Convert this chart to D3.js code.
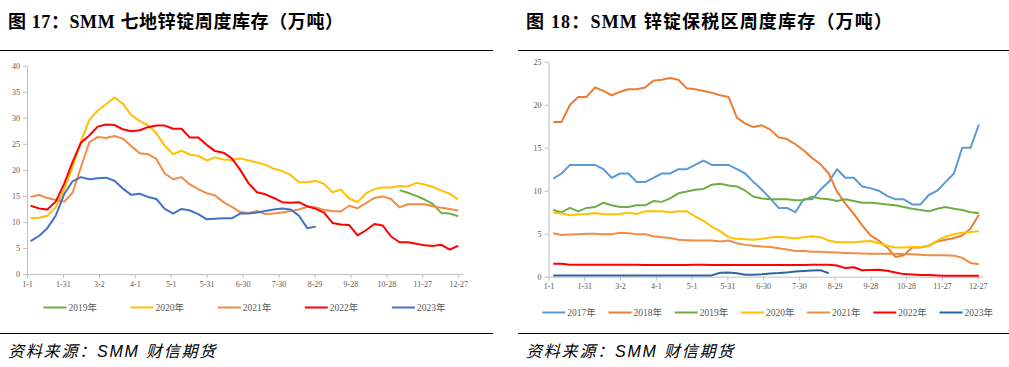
<!DOCTYPE html>
<html>
<head>
<meta charset="utf-8">
<script src="https://cdn.jsdelivr.net/npm/d3@7"></script>
<style>
body { margin: 0; background: #fff; }
svg text { font-family: "Liberation Serif", "Noto Sans CJK SC", serif; }
.axis .tick text { fill: #595959; font-size: 8px; }
.axis path, .axis line { stroke: #bfbfbf; }
.legend text { fill: #595959; font-size: 9.5px; }
.title { font-size: 18px; font-weight: bold; fill: #000; }
.source { font-family: "Liberation Sans", "Noto Sans CJK SC", sans-serif !important; font-size: 16px; font-style: italic; fill: #000; letter-spacing: 1.8px; }
</style>
</head>
<body>
<script>
var width = 1009, height = 367;

var tickDays = [0, 30, 60, 90, 120, 150, 180, 210, 240, 270, 300, 330, 360];
var tickLabels = ["1-1", "1-31", "3-2", "4-1", "5-1", "5-31", "6-30", "7-30", "8-29", "9-28", "10-28", "11-27", "12-27"];

// 图17 七地锌锭库存, weekly points
var leftYears = ["2019年", "2020年", "2021年", "2022年", "2023年"];
var leftColors = ["#70ad47", "#ffc000", "#f08c45", "#ff0000", "#4472c4"];
var leftStart = [311, 3, 3, 3, 3];
var left2019 = [16.1, 15.6, 15.0, 14.3, 13.4, 11.7, 11.6, 11.1];
var left2020 = [10.7, 10.8, 11.2, 12.8, 16.2, 20.5, 25.4, 29.6, 31.4, 32.6, 33.9, 32.7, 30.5, 29.4, 28.6, 27.0, 24.6, 23.0, 23.7, 22.9,
  22.7, 21.8, 22.4, 22.0, 21.9, 22.2, 21.8, 21.4, 21.0, 20.2, 19.8, 19.0, 17.6, 17.6, 17.9, 17.3, 15.7, 16.2, 14.5, 13.8,
  15.5, 16.3, 16.6, 16.6, 16.9, 16.8, 17.5, 17.2, 16.7, 16.0, 15.4, 14.3];
var left2021 = [14.8, 15.2, 14.6, 14.2, 13.9, 15.6, 20.5, 25.3, 26.3, 26.1, 26.5, 26.0, 24.6, 23.2, 23.0, 22.1, 19.3, 18.2, 18.6, 17.2,
  16.3, 15.5, 15.1, 13.8, 12.9, 11.9, 11.7, 12.1, 11.5, 11.6, 11.8, 12.1, 12.4, 12.9, 12.8, 12.3, 12.1, 12.0, 13.1, 12.6,
  13.6, 14.6, 14.9, 14.4, 12.8, 13.4, 13.4, 13.4, 13.0, 12.7, 12.5, 12.2];
var left2022 = [13.1, 12.6, 12.4, 13.9, 17.3, 21.5, 25.2, 26.6, 28.3, 28.7, 28.6, 27.8, 27.4, 27.6, 28.2, 28.5, 28.5, 27.9, 27.9, 26.2,
  26.2, 24.8, 23.6, 23.3, 22.2, 20.0, 17.4, 15.7, 15.3, 14.6, 13.8, 13.7, 13.8, 13.0, 12.5, 11.8, 9.8, 9.5, 9.4, 7.4,
  8.4, 9.6, 9.3, 7.2, 6.1, 6.1, 5.8, 5.5, 5.4, 5.6, 4.7, 5.4];
var left2023 = [6.3, 7.3, 8.8, 11.2, 15.3, 17.8, 18.6, 18.2, 18.4, 18.5, 17.9, 16.4, 15.2, 15.4, 14.8, 14.4, 12.5, 11.6, 12.5, 12.2,
  11.5, 10.5, 10.6, 10.7, 10.7, 11.6, 11.6, 11.8, 12.1, 12.4, 12.6, 12.4, 11.2, 8.8, 9.1];
var leftYTicks = [0, 5, 10, 15, 20, 25, 30, 35, 40];

// 图18 保税区锌锭库存, weekly points
var rightYears = ["2017年", "2018年", "2019年", "2020年", "2021年", "2022年", "2023年"];
var rightColors = ["#5b9bd5", "#ed7d31", "#70ad47", "#ffc000", "#f08c45", "#ff0000", "#2e66a3"];
var rightStart = [4, 4, 4, 4, 4, 4, 4];
var right2017 = [11.4, 12.0, 13.0, 13.0, 13.0, 13.0, 12.5, 11.5, 12.0, 12.0, 11.0, 11.0, 11.5, 12.0, 12.0, 12.5, 12.5, 13.0, 13.5, 13.0,
  13.0, 13.0, 12.5, 12.0, 11.0, 10.1, 9.1, 8.0, 8.0, 7.5, 9.0, 9.0, 10.1, 11.0, 12.5, 11.5, 11.5, 10.5, 10.3, 10.0,
  9.4, 9.0, 9.0, 8.4, 8.4, 9.5, 10.0, 11.0, 12.0, 15.0, 15.0, 17.7];
var right2018 = [18.0, 18.0, 20.0, 20.9, 20.9, 22.0, 21.6, 21.1, 21.5, 21.8, 21.8, 22.0, 22.8, 22.9, 23.1, 22.9, 21.9, 21.8, 21.6, 21.4,
  21.1, 20.9, 18.5, 17.8, 17.4, 17.6, 17.1, 16.2, 16.0, 15.4, 14.7, 13.8, 13.1, 12.0, 9.9, 8.5, 7.3, 6.0, 4.8, 4.2,
  3.4, 2.3, 2.5, 3.4, 3.4, 3.6, 4.1, 4.3, 4.5, 4.8, 5.6, 7.2];
var right2019 = [7.75, 7.5, 8.0, 7.6, 8.0, 8.1, 8.6, 8.3, 8.1, 8.1, 8.3, 8.3, 8.8, 8.7, 9.1, 9.7, 9.9, 10.1, 10.2, 10.7,
  10.8, 10.6, 10.5, 10.0, 9.3, 9.1, 9.0, 9.0, 9.0, 8.9, 8.9, 9.3, 9.1, 9.0, 8.8, 9.0, 8.8, 8.6, 8.6, 8.5,
  8.4, 8.3, 8.1, 7.9, 7.75, 7.6, 7.9, 8.1, 7.9, 7.75, 7.5, 7.4];
var right2020 = [7.45, 7.35, 7.15, 7.25, 7.3, 7.4, 7.25, 7.25, 7.3, 7.45, 7.3, 7.6, 7.6, 7.6, 7.5, 7.6, 7.6, 7.0, 6.5, 5.8,
  5.3, 4.6, 4.4, 4.35, 4.3, 4.4, 4.55, 4.65, 4.55, 4.45, 4.6, 4.7, 4.6, 4.2, 4.0, 4.0, 4.0, 4.1, 4.15, 3.9,
  3.6, 3.4, 3.4, 3.45, 3.45, 3.6, 4.2, 4.65, 4.95, 5.1, 5.2, 5.3];
var right2021 = [5.05, 4.85, 4.9, 4.95, 5.0, 5.0, 4.95, 4.95, 5.1, 5.05, 4.95, 4.95, 4.7, 4.6, 4.5, 4.3, 4.25, 4.2, 4.2, 4.2,
  4.1, 4.2, 3.9, 3.7, 3.6, 3.5, 3.45, 3.3, 3.15, 3.0, 3.0, 2.9, 2.9, 2.85, 2.8, 2.75, 2.72, 2.7, 2.68, 2.67,
  2.67, 2.68, 2.65, 2.6, 2.55, 2.5, 2.5, 2.5, 2.45, 2.2, 1.6, 1.45];
var right2022 = [1.5, 1.5, 1.4, 1.4, 1.4, 1.4, 1.4, 1.4, 1.4, 1.4, 1.4, 1.35, 1.35, 1.35, 1.35, 1.35, 1.35, 1.4, 1.4, 1.35,
  1.35, 1.35, 1.35, 1.35, 1.35, 1.35, 1.35, 1.35, 1.35, 1.35, 1.35, 1.4, 1.4, 1.4, 1.3, 1.0, 1.1, 0.75, 0.78, 0.8,
  0.7, 0.5, 0.3, 0.27, 0.2, 0.2, 0.15, 0.12, 0.12, 0.12, 0.12, 0.12];
var right2023 = [0.15, 0.15, 0.15, 0.15, 0.15, 0.15, 0.15, 0.15, 0.15, 0.15, 0.15, 0.15, 0.15, 0.15, 0.15, 0.15, 0.15, 0.15, 0.15, 0.15,
  0.45, 0.5, 0.4, 0.22, 0.22, 0.28, 0.38, 0.42, 0.5, 0.6, 0.66, 0.72, 0.76, 0.4];
var rightYTicks = [0, 5, 10, 15, 20, 25];

var svg = d3.select("body").append("svg")
    .attr("width", width).attr("height", height)
    .style("background", "#fff");

function drawChart(opt) {
    var x = d3.scaleLinear().domain([0, 364]).range([opt.x0, opt.x1]);
    var y = d3.scaleLinear().domain([0, opt.yMax]).range([opt.y0, opt.y1]);

    svg.append("text").attr("class", "title").attr("x", opt.left + 8).attr("y", 28)
        .attr("textLength", opt.titleWidth).attr("lengthAdjust", "spacing").text(opt.title);
    svg.append("line").attr("x1", opt.left).attr("x2", opt.right).attr("y1", 50.5).attr("y2", 50.5)
        .attr("stroke", "#000").attr("stroke-width", 1.2);
    svg.append("line").attr("x1", opt.left).attr("x2", opt.right).attr("y1", 333.5).attr("y2", 333.5)
        .attr("stroke", "#000").attr("stroke-width", 1.2);
    svg.append("text").attr("class", "source").attr("x", opt.left + 8).attr("y", 357).text("资料来源：SMM 财信期货");

    svg.append("g").attr("class", "axis").attr("transform", "translate(" + opt.x0 + ",0)")
        .call(d3.axisLeft(y).tickValues(opt.yTicks).tickSize(4).tickSizeOuter(0).tickPadding(3));
    svg.append("g").attr("class", "axis").attr("transform", "translate(0," + opt.y0 + ")")
        .call(d3.axisBottom(x).tickValues(tickDays).tickSize(4).tickSizeOuter(0).tickPadding(3)
            .tickFormat(function(d, i) { return tickLabels[i]; }));

    var line = d3.line()
        .x(function(d) { return x(d.day); })
        .y(function(d) { return y(d.v); });

    var series = opt.years.map(function(name, i) {
        return {
            name: name,
            color: opt.colors[i],
            values: opt.data[i].map(function(v, j) { return {day: opt.start[i] + 7 * j, v: v}; })
        };
    });

    svg.append("g").selectAll("path").data(series).enter().append("path")
        .attr("d", function(d) { return line(d.values); })
        .attr("fill", "none")
        .attr("stroke", function(d) { return d.color; })
        .attr("stroke-width", 2)
        .attr("stroke-linejoin", "round");

    var legend = svg.append("g").attr("class", "legend").selectAll("g").data(series).enter().append("g")
        .attr("transform", function(d, i) { return "translate(" + (opt.legendX + i * opt.legendStep) + "," + opt.legendY + ")"; });
    legend.append("line").attr("x1", 0).attr("x2", 23).attr("y1", 0).attr("y2", 0)
        .attr("stroke", function(d) { return d.color; }).attr("stroke-width", 2);
    legend.append("text").attr("x", 25).attr("y", 3.5).text(function(d) { return d.name; });
}

drawChart({
    title: "图 17：SMM 七地锌锭周度库存（万吨）", titleWidth: 335,
    left: 0, right: 493,
    x0: 27, x1: 463, y0: 274, y1: 65.7, yMax: 40, yTicks: leftYTicks,
    years: leftYears, colors: leftColors, start: leftStart,
    data: [left2019, left2020, left2021, left2022, left2023],
    legendX: 43.5, legendStep: 87.1, legendY: 307.5
});

drawChart({
    title: "图 18：SMM 锌锭保税区周度库存（万吨）", titleWidth: 366,
    left: 518, right: 1009,
    x0: 548.5, x1: 982.5, y0: 276.7, y1: 61.7, yMax: 25, yTicks: rightYTicks,
    years: rightYears, colors: rightColors, start: rightStart,
    data: [right2017, right2018, right2019, right2020, right2021, right2022, right2023],
    legendX: 542.3, legendStep: 66.2, legendY: 312.5
});
</script>
</body>
</html>
